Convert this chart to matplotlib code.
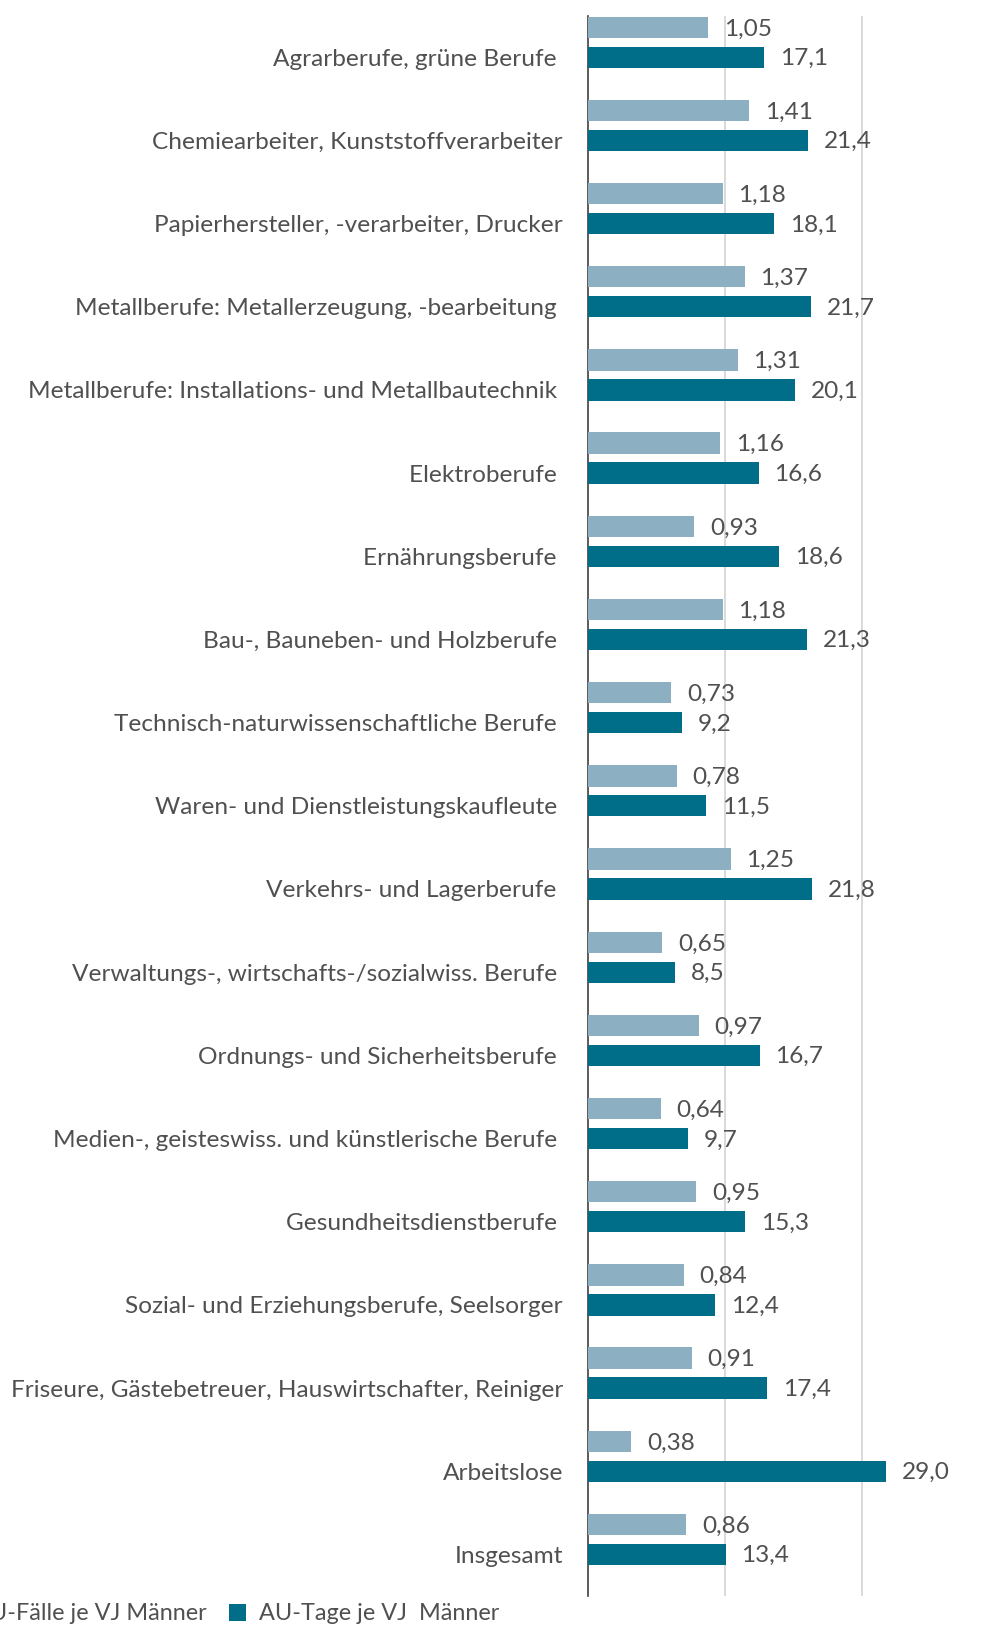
import matplotlib
matplotlib.use("Agg")
import matplotlib.pyplot as plt
from matplotlib.patches import Patch

categories = [
    "Agrarberufe, grüne Berufe ",
    "Chemiearbeiter, Kunststoffverarbeiter",
    "Papierhersteller, -verarbeiter, Drucker",
    "Metallberufe: Metallerzeugung, -bearbeitung ",
    "Metallberufe: Installations- und Metallbautechnik ",
    "Elektroberufe ",
    "Ernährungsberufe ",
    "Bau-, Bauneben- und Holzberufe ",
    "Technisch-naturwissenschaftliche Berufe ",
    "Waren- und Dienstleistungskaufleute ",
    "Verkehrs- und Lagerberufe ",
    "Verwaltungs-, wirtschafts-/sozialwiss. Berufe ",
    "Ordnungs- und Sicherheitsberufe ",
    "Medien-, geisteswiss. und künstlerische Berufe ",
    "Gesundheitsdienstberufe ",
    "Sozial- und Erziehungsberufe, Seelsorger",
    "Friseure, Gästebetreuer, Hauswirtschafter, Reiniger",
    "Arbeitslose",
    "Insgesamt",
]
au_faelle = [1.05, 1.41, 1.18, 1.37, 1.31, 1.16, 0.93, 1.18, 0.73, 0.78,
             1.25, 0.65, 0.97, 0.64, 0.95, 0.84, 0.91, 0.38, 0.86]
au_tage = [17.1, 21.4, 18.1, 21.7, 20.1, 16.6, 18.6, 21.3, 9.2, 11.5,
           21.8, 8.5, 16.7, 9.7, 15.3, 12.4, 17.4, 29.0, 13.4]
series_names = ["AU-Fälle je VJ Männer", "AU-Tage je VJ  Männer"]

fmt_faelle = lambda v: f"{v:.2f}".replace(".", ",")
fmt_tage = lambda v: f"{v:.1f}".replace(".", ",")

LIGHT = "#8cb0c2"
DARK = "#006e89"
TXT = "#505050"
FONT = ["Lato", "DejaVu Sans"]
FS = 17.6
FS_LEG = 16.9
FW = "normal"

plt.rcParams["font.family"] = FONT
plt.rcParams["font.weight"] = FW

W, H = 988, 1628
fig = plt.figure(figsize=(W / 100, H / 100), dpi=100)
x0, x1 = 587.7, 999.8
y0, y1 = 15.6, 1596
ax = fig.add_axes([x0 / W, 1 - y1 / H, (x1 - x0) / W, (y1 - y0) / H])
ax2 = ax.twiny()

n = len(categories)
pos = list(range(n))
bh = 0.256
off = -0.36

ax.barh(pos, au_tage, height=bh, color=DARK, zorder=3)
ax2.barh([p + off for p in pos], au_faelle, height=bh, color=LIGHT, zorder=3)

ax.set_xlim(0, 40)
ax2.set_xlim(0, 3.6)
for a in (ax, ax2):
    a.set_ylim(n - 0.5, -0.5)

for p, v in zip(pos, au_tage):
    ax.annotate(fmt_tage(v), (v, p), xytext=(11.3, -1), textcoords="offset points",
                va="center", ha="left", fontsize=FS, color=TXT, fontweight=FW)
for p, v in zip(pos, au_faelle):
    ax2.annotate(fmt_faelle(v), (v, p + off), xytext=(11.3, -1.2), textcoords="offset points",
                 va="center", ha="left", fontsize=FS, color=TXT, fontweight=FW)

ax.set_xticks([40 / 3, 80 / 3])
ax.xaxis.grid(True, color="#d9d9d9", linewidth=1.4, zorder=0)
ax.set_axisbelow(True)
ax.tick_params(axis="x", length=0, labelbottom=False, labeltop=False)
ax2.tick_params(axis="x", length=0, labelbottom=False, labeltop=False)
ax2.set_xticks([])

ax.set_yticks(pos)
ax.set_yticklabels(categories, fontsize=FS, color=TXT, fontweight=FW)
ax.tick_params(axis="y", length=0, pad=24.7 * 0.72)

for a in (ax, ax2):
    for s in ("top", "right", "bottom", "left"):
        a.spines[s].set_visible(False)
ax.spines["left"].set_visible(True)
ax.spines["left"].set_color("#404040")
ax.spines["left"].set_linewidth(1.2)

handles = [Patch(facecolor=LIGHT, edgecolor="none"), Patch(facecolor=DARK, edgecolor="none")]
fig.legend(handles, series_names, loc="center right",
           bbox_to_anchor=(499 / W, 1 - 1614 / H), ncol=2, frameon=False,
           prop={"size": FS_LEG, "weight": FW}, labelcolor=TXT,
           handlelength=0.72, handleheight=0.72,
           handletextpad=0.55, columnspacing=0.95, borderpad=0, borderaxespad=0)

fig.savefig("out.png", dpi=100)
